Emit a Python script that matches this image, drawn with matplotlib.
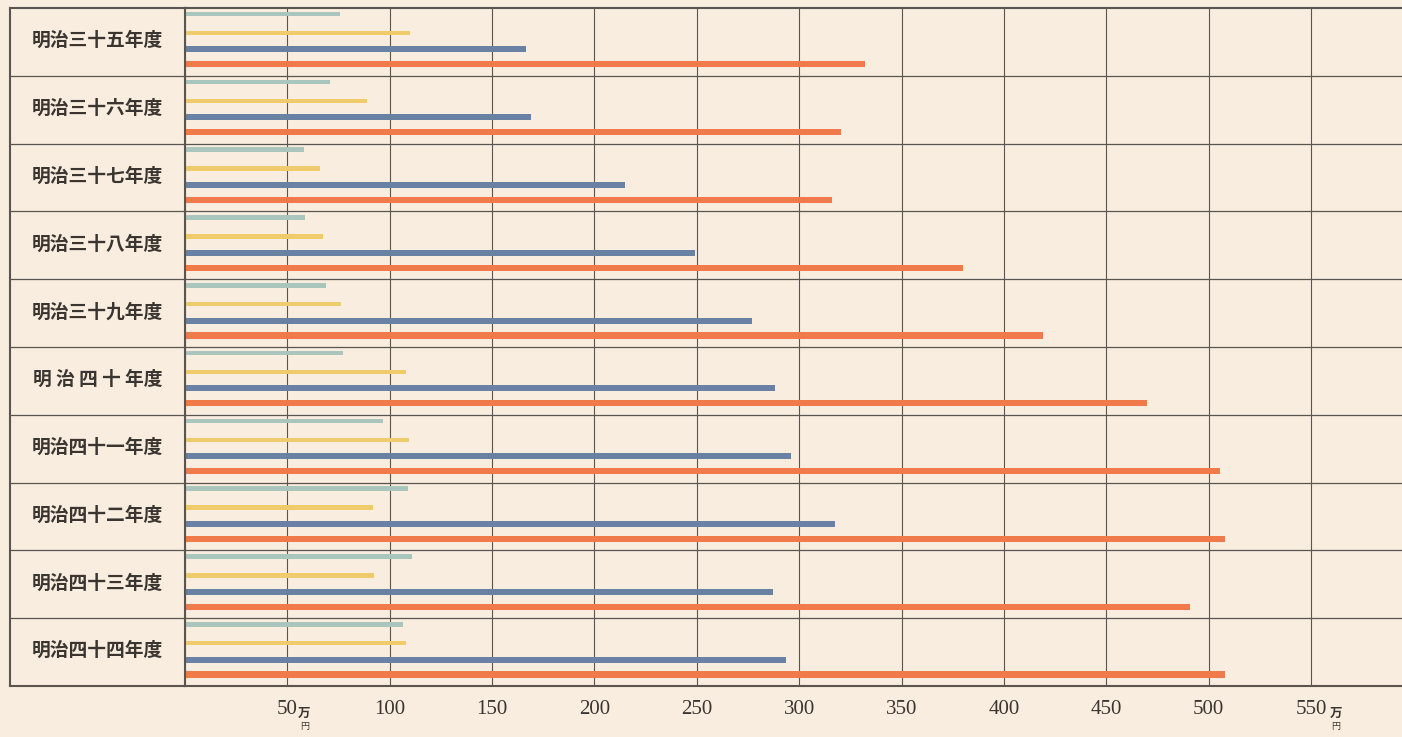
import matplotlib
matplotlib.use("Agg")
import matplotlib.pyplot as plt
import numpy as np

plt.rcParams['font.family'] = ['Noto Sans CJK JP', 'DejaVu Sans']

categories = ["明治三十五年度", "明治三十六年度", "明治三十七年度", "明治三十八年度",
              "明治三十九年度", "明 治 四 十 年度", "明治四十一年度", "明治四十二年度",
              "明治四十三年度", "明治四十四年度"]
series_teal   = [75.5, 70.7, 58, 58.7, 69, 77, 96.6, 109, 111, 106.5]
series_yellow = [110, 89, 66, 67.5, 76, 108, 109.4, 92, 92.5, 108]
series_blue   = [166.5, 169, 215, 249, 277, 288, 296, 317.6, 287, 293.6]
series_orange = [332, 320.6, 316, 380, 419, 470, 505.4, 507.8, 491, 507.8]
tick_values = [50, 100, 150, 200, 250, 300, 350, 400, 450, 500, 550]
tick_labels = ["50", "100", "150", "200", "250", "300", "350", "400", "450", "500", "550"]

W, H = 1402, 737
bg = "#f9eddf"
line_col = "#5a5550"
text_col = "#3a3530"
fig = plt.figure(figsize=(W / 100, H / 100), dpi=100, facecolor=bg)

top_px, bot_px = 8, 686
left_lab, left_plot = 10, 185
b = (H - bot_px) / H
h = (bot_px - top_px) / H

ax = fig.add_axes([left_plot / W, b, (W - left_plot) / W, h])
lab = fig.add_axes([left_lab / W, b, (left_plot - left_lab) / W, h])

n = len(categories)
for a in (ax, lab):
    a.set_facecolor(bg)
    a.set_ylim(n, 0)
    for y in range(1, n):
        a.axhline(y, color=line_col, lw=0.9, zorder=1)

px_per_unit = (1311 - 185) / 550.0
ax.set_xlim(0, (W - left_plot) / px_per_unit)

offsets = [0.09, 0.37, 0.61, 0.83]
heights = [0.065, 0.065, 0.09, 0.09]
colors = ["#a9c5bc", "#efcb6c", "#6982a4", "#f07a49"]
series = [series_teal, series_yellow, series_blue, series_orange]
ypos = np.arange(n)
for s, off, hh, c in zip(series, offsets, heights, colors):
    ax.barh(ypos + off, s, height=hh, color=c, zorder=3, linewidth=0)

ax.set_xticks(tick_values)
ax.set_xticklabels(tick_labels, family=['Liberation Serif'], fontsize=15, color=text_col)
ax.tick_params(axis='x', length=0, pad=10)
ax.set_yticks([])
ax.grid(axis='x', color=line_col, lw=0.8, zorder=2)
ax.set_axisbelow(False)
for sp in ['top', 'bottom', 'left']:
    ax.spines[sp].set_color(line_col)
    ax.spines[sp].set_linewidth(1.5)
ax.spines['right'].set_visible(False)

for xv in (50, 550):
    xt = xv + (17 / px_per_unit if xv == 50 else 25 / px_per_unit)
    ax.text(xt, n + 0.40, "万", fontsize=9, ha='center', va='center', color=text_col,
            fontweight='bold', clip_on=False)
    ax.text(xt, n + 0.59, "円", fontsize=6.5, ha='center', va='center', color=text_col,
            clip_on=False)

lab.set_xlim(0, 1)
lab.set_xticks([])
lab.set_yticks([])
for sp in ['top', 'bottom', 'left', 'right']:
    lab.spines[sp].set_color(line_col)
    lab.spines[sp].set_linewidth(1.5)
for i, cat in enumerate(categories):
    lab.text(0.5, i + 0.48, cat, ha='center', va='center', fontsize=13.5,
             fontweight='bold', color=text_col)

fig.savefig("out.png", dpi=100, facecolor=bg)
